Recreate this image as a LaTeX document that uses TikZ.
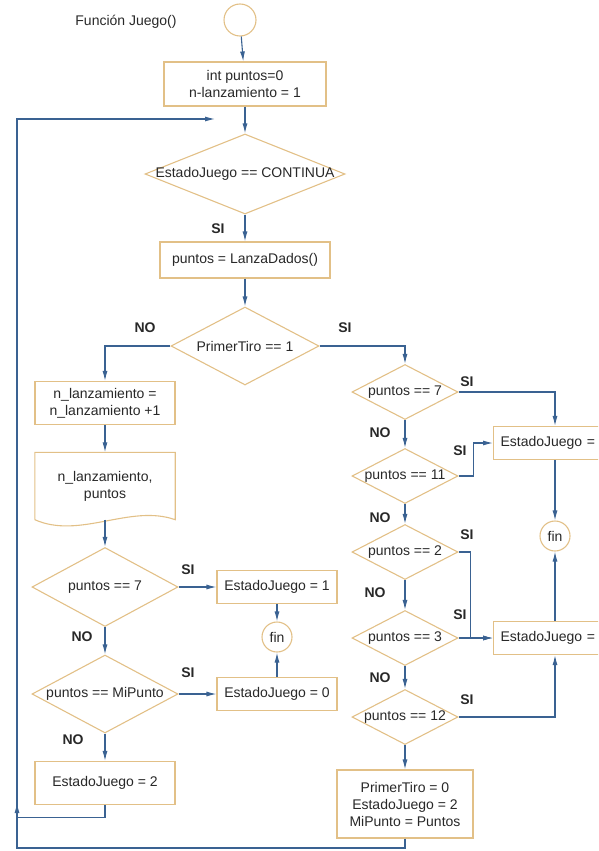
\documentclass[tikz,border=0pt]{standalone}
\usepackage{fontspec}
\setmainfont{Liberation Sans}
\usetikzlibrary{shapes.geometric,arrows.meta}

\definecolor{boxline}{RGB}{226,192,135}
\definecolor{flowline}{RGB}{58,98,146}
\definecolor{txt}{RGB}{40,40,40}

\tikzstyle{box}=[
    draw=boxline,
    line width=1.1pt,
    fill=white,
    minimum width=120pt,
    minimum height=33pt,
    align=center,
    inner sep=2pt,
  ]
\tikzstyle{cond}=[
    draw=boxline,
    line width=1.1pt,
    diamond,
    inner sep=0pt,
  ]
\tikzstyle{endpt}=[
    draw=boxline,
    line width=1.1pt,
    circle,
    minimum size=30pt,
    inner sep=0pt,
  ]
\tikzstyle{flow}=[
    -{Latex[length=10pt,width=5pt]},
    draw=flowline,
    line width=1.1pt,
  ]
\tikzstyle{tag}=[
    font=\fontsize{14}{17}\selectfont\bfseries,
  ]

\newcommand{\ztxt}[1]{\makebox[0pt]{#1}}

\begin{document}
\begin{tikzpicture}[x=1pt, y=-1pt, font=\fontsize{14}{17}\selectfont, text=txt]
      \useasboundingbox (0,0) rectangle (598,851);
      \clip (0,0) rectangle (598,851);
      \node (title) at (126,22) {Función Juego()};
      \node[endpt, minimum size=32pt] (start) at (240,20) {};
      \node[box, minimum width=162pt, minimum height=44pt] (init) at (245,84) {int puntos=0\\n-lanzamiento = 1};
      \coordinate (loopend) at (215,119);
      \node[cond, minimum width=200pt, minimum height=80pt] (cont) at (245,174) {\ztxt{EstadoJuego == CONTINUA}};
      \node[box, minimum width=170pt, minimum height=36pt] (lanza) at (245,260) {puntos = LanzaDados()};
      \node[cond, minimum width=148pt, minimum height=78pt] (primer) at (245,346) {\ztxt{PrimerTiro == 1}};
      % rama NO
      \node[box, minimum width=140pt, minimum height=43pt] (incr) at (105,403) {n\_lanzamiento =\\n\_lanzamiento +1};
      \node[minimum width=140pt, minimum height=67pt, align=center] (show) at (105,486) {n\_lanzamiento,\\puntos};
      \draw[boxline, line width=1.1pt] (show.south west) -- (show.north west) -- (show.north east) -- (show.south east)
        .. controls +(-45,-16) and +(45,20) .. (show.south west);
      \node[cond, minimum width=146pt, minimum height=79pt] (p7a) at (105,587) {\ztxt{puntos == 7}};
      \node[box] (e1) at (277,587) {EstadoJuego = 1};
      \node[endpt] (fin1) at (277,637) {fin};
      \node[cond, minimum width=146pt, minimum height=78pt] (mip) at (105,694) {\ztxt{puntos == MiPunto}};
      \node[box] (e0) at (277,694) {EstadoJuego = 0};
      \node[box, minimum width=140pt, minimum height=43pt] (e2) at (105,783) {EstadoJuego = 2};
      \coordinate (back) at (17,803);
      \coordinate (corner) at (17,848);
      % rama SI
      \foreach \n/\y in {p7b/392, p11/476, p2/552, p3/638, p12/717} {%
        \node[cond, minimum width=106pt, minimum height=55pt] (\n) at (405,\y) {};
      }
      \node at (p7b) {puntos == 7};
      \node at (p11) {puntos == 11};
      \node at (p2) {puntos == 2};
      \node at (p3) {puntos == 3};
      \node at (p12) {puntos == 12};
      \node[box, anchor=west, text width=116pt, inner xsep=7pt, align=left] (win) at (493,443) {EstadoJuego =};
      \node[box, anchor=west, text width=116pt, inner xsep=7pt, align=left] (lose) at (493,638) {EstadoJuego =};
      \node[endpt] (fin2) at (555,536) {fin};
      \node[box, minimum width=136pt, minimum height=68pt] (last) at (405,804) {PrimerTiro = 0\\EstadoJuego = 2\\MiPunto = Puntos};
      % etiquetas
      \foreach \n/\x/\y/\t in {s1/218/229/SI, n1/145/328/NO, s2/345/328/SI,
          s3/188/570/SI, n2/82/637/NO, s4/188/673/SI, n3/73/740/NO,
          s5/467/382/SI, n4/380/433/NO, s6/460/451/SI, n5/380/518/NO,
          s7/467/535/SI, n6/375/593/NO, s8/460/615/SI, n7/380/678/NO, s9/467/700/SI} {%
        \node[tag] (\n) at (\x,\y) {\t};
      }
      % flechas
      \draw[flow] (start) -- (init);
      \draw[flow] (init) -- (cont);
      \draw[flow] (cont) -- (lanza);
      \draw[flow] (lanza) -- (primer);
      \draw[flow] (primer.west) -| (incr);
      \draw[flow] (incr) -- (show);
      \draw[flow] (show) -- (p7a);
      \draw[flow] (p7a) -- (e1);
      \draw[flow] (e1) -- (fin1);
      \draw[flow] (p7a) -- (mip);
      \draw[flow] (mip) -- (e0);
      \draw[flow] (e0) -- (fin1);
      \draw[flow] (mip) -- (e2);
      \draw[flow] (e2.south) -- ++(0,12) -| (back);
      \draw[flow] (last.south) |- (corner) |- (loopend);
      \draw[flow] (primer.east) -| (p7b);
      \draw[flow] (p7b.east) -| (fin2 |- win.north);
      \draw[flow] (p7b) -- (p11);
      \draw[flow] (p11.east) -- ++(15,0) |- (win.west);
      \draw[flow] (fin2 |- win.south) -- (fin2);
      \draw[flow] (p11) -- (p2);
      \draw[flow] (p2.east) -- ++(12,0) |- (lose.west);
      \draw[flow] (p2) -- (p3);
      \draw[flow] (p3) -- (lose);
      \draw[flow] (fin2 |- lose.north) -- (fin2);
      \draw[flow] (p3) -- (p12);
      \draw[flow] (p12.east) -| (fin2 |- lose.south);
      \draw[flow] (p12) -- (last);
    \end{tikzpicture}
\end{document}
